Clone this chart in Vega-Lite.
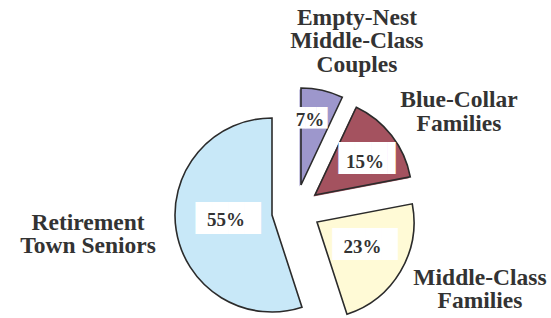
{
  "$schema": "https://vega.github.io/schema/vega-lite/v6.json",
  "width": 512,
  "height": 214,
  "autosize": {"type": "none"},
  "padding": {"left": 39, "top": 104, "right": 0, "bottom": 0},
  "background": "white",
  "view": {"stroke": null},
  "data": {"values": [
    {"segment": "Empty-Nest Middle-Class Couples", "lines": ["Empty-Nest", "Middle-Class", "Couples"], "share": 0.07},
    {"segment": "Blue-Collar Families", "lines": ["Blue-Collar", "Families"], "share": 0.15},
    {"segment": "Middle-Class Families", "lines": ["Middle-Class", "Families"], "share": 0.23},
    {"segment": "Retirement Town Seniors", "lines": ["Retirement", "Town Seniors"], "share": 0.55}
  ]},
  "encoding": {
    "theta": {"field": "share", "type": "quantitative", "stack": true},
    "detail": {"field": "segment", "type": "nominal"},
    "order": {"field": "share", "type": "quantitative", "sort": "ascending"}
  },
  "layer": [
    {"mark": {"type": "arc", "radius": 97, "fill": "#9d97cc", "xOffset": 4.5, "yOffset": -24.5},
     "encoding": {"opacity": {"condition": {"test": "datum.segment === 'Empty-Nest Middle-Class Couples'", "value": 1}, "value": 0}}},
    {"mark": {"type": "arc", "radius": 97, "fill": "#9d97cc", "stroke": "#2b2b2b", "strokeWidth": 1.6, "strokeJoin": "miter", "xOffset": 6, "yOffset": -26},
     "encoding": {"opacity": {"condition": {"test": "datum.segment === 'Empty-Nest Middle-Class Couples'", "value": 1}, "value": 0}}},
    {"mark": {"type": "arc", "radius": 97, "fill": "#a4525f", "xOffset": 18.5, "yOffset": -14.5},
     "encoding": {"opacity": {"condition": {"test": "datum.segment === 'Blue-Collar Families'", "value": 1}, "value": 0}}},
    {"mark": {"type": "arc", "radius": 97, "fill": "#a4525f", "stroke": "#2b2b2b", "strokeWidth": 1.6, "strokeJoin": "miter", "xOffset": 20, "yOffset": -16},
     "encoding": {"opacity": {"condition": {"test": "datum.segment === 'Blue-Collar Families'", "value": 1}, "value": 0}}},
    {"mark": {"type": "arc", "radius": 97, "fill": "#fffad6", "stroke": "#2b2b2b", "strokeWidth": 1.6, "strokeJoin": "miter", "xOffset": 22, "yOffset": 11},
     "encoding": {"opacity": {"condition": {"test": "datum.segment === 'Middle-Class Families'", "value": 1}, "value": 0}}},
    {"mark": {"type": "arc", "radius": 97, "fill": "#c8e8f8", "stroke": "#2b2b2b", "strokeWidth": 1.6, "strokeJoin": "miter", "xOffset": -23, "yOffset": 4},
     "encoding": {"opacity": {"condition": {"test": "datum.segment === 'Retirement Town Seniors'", "value": 1}, "value": 0}}},

    {"mark": {"type": "text", "radius": 93, "text": "███", "font": "DejaVu Sans Mono", "fontSize": 18, "fill": "white", "align": "center", "baseline": "middle", "dx": -4.3, "dy": -1.5},
     "encoding": {"opacity": {"condition": {"test": "datum.segment === 'Empty-Nest Middle-Class Couples'", "value": 1}, "value": 0}}},
    {"mark": {"type": "text", "radius": 88.5, "text": "███▌", "font": "DejaVu Sans Mono", "fontSize": 27, "fill": "white", "align": "center", "baseline": "middle", "dx": 6.2, "dy": 1.9},
     "encoding": {"opacity": {"condition": {"test": "datum.segment === 'Blue-Collar Families'", "value": 1}, "value": 0}}},
    {"mark": {"type": "text", "radius": 77.9, "text": "████", "font": "DejaVu Sans Mono", "fontSize": 27, "fill": "white", "align": "center", "baseline": "middle", "dx": 2.9, "dy": -6},
     "encoding": {"opacity": {"condition": {"test": "datum.segment === 'Middle-Class Families'", "value": 1}, "value": 0}}},
    {"mark": {"type": "text", "radius": 67.5, "text": "████", "font": "DejaVu Sans Mono", "fontSize": 27, "fill": "white", "align": "center", "baseline": "middle", "dx": -0.3, "dy": -2.9},
     "encoding": {"opacity": {"condition": {"test": "datum.segment === 'Retirement Town Seniors'", "value": 1}, "value": 0}}},

    {"mark": {"type": "text", "radius": 93, "font": "Liberation Serif", "fontWeight": "bold", "fontSize": 19, "fill": "#333333", "align": "center", "baseline": "middle", "dx": -5.3, "dy": -0.5},
     "encoding": {"text": {"field": "share", "format": ".0%"}, "opacity": {"condition": {"test": "datum.segment === 'Empty-Nest Middle-Class Couples'", "value": 1}, "value": 0}}},
    {"mark": {"type": "text", "radius": 86, "font": "Liberation Serif", "fontWeight": "bold", "fontSize": 19, "fill": "#333333", "align": "center", "baseline": "middle", "dx": 2.1, "dy": 3.4},
     "encoding": {"text": {"field": "share", "format": ".0%"}, "opacity": {"condition": {"test": "datum.segment === 'Blue-Collar Families'", "value": 1}, "value": 0}}},
    {"mark": {"type": "text", "radius": 75.9, "font": "Liberation Serif", "fontWeight": "bold", "fontSize": 19, "fill": "#333333", "align": "center", "baseline": "middle", "dx": 2.1, "dy": -2.9},
     "encoding": {"text": {"field": "share", "format": ".0%"}, "opacity": {"condition": {"test": "datum.segment === 'Middle-Class Families'", "value": 1}, "value": 0}}},
    {"mark": {"type": "text", "radius": 69.4, "font": "Liberation Serif", "fontWeight": "bold", "fontSize": 19, "fill": "#333333", "align": "center", "baseline": "middle", "dx": -0.4, "dy": -2.1},
     "encoding": {"text": {"field": "share", "format": ".0%"}, "opacity": {"condition": {"test": "datum.segment === 'Retirement Town Seniors'", "value": 1}, "value": 0}}},

    {"mark": {"type": "text", "radius": 178.5, "font": "Liberation Serif", "fontWeight": "bold", "fontSize": 23.5, "lineHeight": 23.5, "fill": "#333333", "align": "center", "baseline": "middle", "dx": 23, "dy": -19},
     "encoding": {"text": {"field": "lines"}, "opacity": {"condition": {"test": "datum.segment === 'Empty-Nest Middle-Class Couples'", "value": 1}, "value": 0}}},
    {"mark": {"type": "text", "radius": 191.5, "font": "Liberation Serif", "fontWeight": "bold", "fontSize": 23.5, "lineHeight": 23.5, "fill": "#333333", "align": "center", "baseline": "middle", "dx": 12.7, "dy": 6.4},
     "encoding": {"text": {"field": "lines"}, "opacity": {"condition": {"test": "datum.segment === 'Blue-Collar Families'", "value": 1}, "value": 0}}},
    {"mark": {"type": "text", "radius": 198.5, "font": "Liberation Serif", "fontWeight": "bold", "fontSize": 23.5, "lineHeight": 23.5, "fill": "#333333", "align": "center", "baseline": "middle", "dx": 14.1, "dy": -34.5},
     "encoding": {"text": {"field": "lines"}, "opacity": {"condition": {"test": "datum.segment === 'Middle-Class Families'", "value": 1}, "value": 0}}},
    {"mark": {"type": "text", "radius": 208, "font": "Liberation Serif", "fontWeight": "bold", "fontSize": 23.5, "lineHeight": 23.5, "fill": "#333333", "align": "center", "baseline": "middle", "dx": -1.5, "dy": -20.6},
     "encoding": {"text": {"field": "lines"}, "opacity": {"condition": {"test": "datum.segment === 'Retirement Town Seniors'", "value": 1}, "value": 0}}}
  ]
}
